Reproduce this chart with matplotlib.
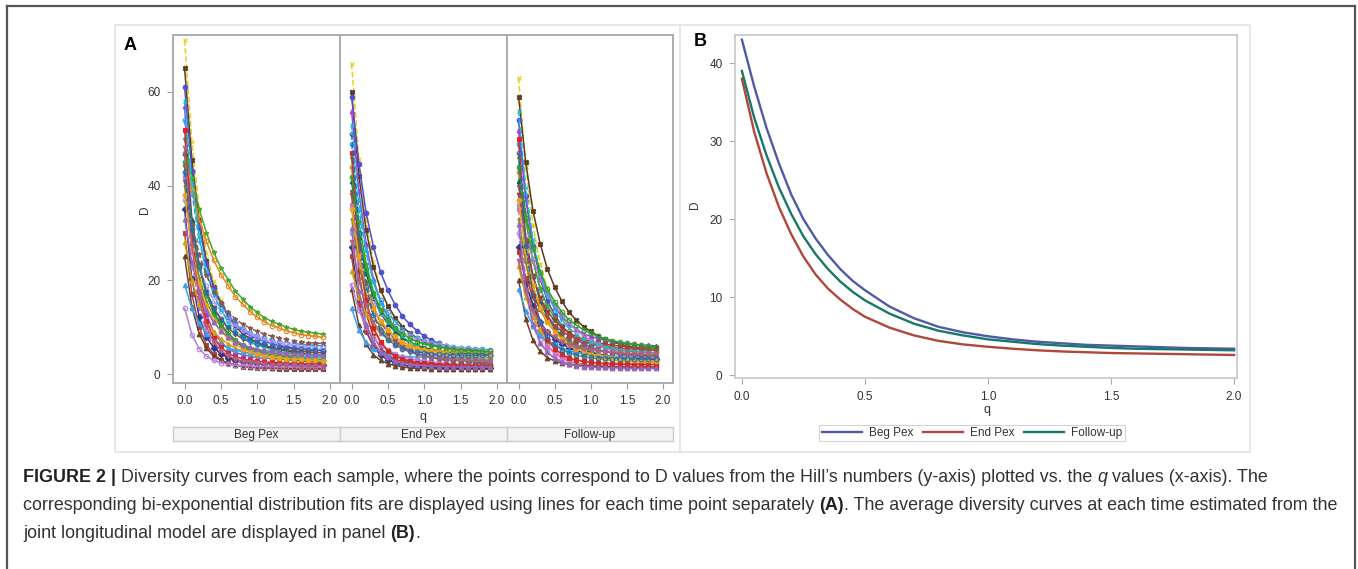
import matplotlib
matplotlib.use("Agg")
import matplotlib.pyplot as plt
from matplotlib.lines import Line2D
from matplotlib.patches import Rectangle

plt.rcParams['font.family'] = ['Liberation Sans', 'DejaVu Sans']

W, H = 1358, 569

# ---------------------------------------------------------------- data
q_points = [0.0, 0.1, 0.2, 0.3, 0.4, 0.5, 0.6, 0.7, 0.8, 0.9,
            1.0, 1.1, 1.2, 1.3, 1.4, 1.5, 1.6, 1.7, 1.8, 1.9]

beg_pex = [
    [71, 49.4, 35.2, 25.8, 19.7, 15.7, 12.6, 10.3, 8.6, 7.4, 6.5, 5.8, 5.3, 4.8, 4.5, 4.2, 4.0, 3.8, 3.6, 3.5],
    [65, 45.5, 32.7, 24.1, 18.6, 15.0, 12.2, 10.1, 8.6, 7.5, 6.7, 6.1, 5.6, 5.2, 4.9, 4.6, 4.4, 4.2, 4.1, 4.0],
    [61, 43.1, 31.3, 23.5, 18.4, 15.1, 12.6, 10.6, 9.2, 8.2, 7.5, 6.9, 6.5, 6.1, 5.8, 5.6, 5.4, 5.2, 5.1, 5.0],
    [57, 32.7, 19.7, 12.7, 8.9, 6.8, 5.4, 4.6, 4.1, 3.8, 3.5, 3.4, 3.3, 3.2, 3.1, 3.05, 3.0, 3.0, 3.0, 3.0],
    [54, 38.6, 28.6, 21.8, 17.5, 14.6, 12.5, 10.8, 9.6, 8.7, 8.1, 7.6, 7.3, 6.9, 6.7, 6.5, 6.3, 6.2, 6.1, 6.0],
    [50, 41.7, 35.1, 30.1, 25.9, 22.6, 20.1, 17.6, 16.0, 14.3, 13.1, 12.0, 11.2, 10.6, 10.0, 9.5, 9.1, 8.9, 8.7, 8.5],
    [47, 39.2, 32.9, 28.2, 24.3, 21.1, 18.8, 16.4, 14.9, 13.3, 12.1, 11.1, 10.3, 9.8, 9.2, 8.8, 8.4, 8.2, 8.0, 7.8],
    [47, 32.8, 23.4, 17.2, 13.2, 10.5, 8.5, 7.0, 5.8, 5.0, 4.5, 4.0, 3.7, 3.4, 3.1, 3.0, 2.8, 2.7, 2.6, 2.5],
    [44, 31.4, 23.1, 17.5, 14.0, 11.6, 9.8, 8.5, 7.5, 6.8, 6.2, 5.8, 5.5, 5.3, 5.1, 4.9, 4.8, 4.7, 4.6, 4.5],
    [42, 23.8, 14.1, 8.8, 6.0, 4.3, 3.3, 2.7, 2.3, 2.1, 1.9, 1.8, 1.7, 1.6, 1.6, 1.5, 1.5, 1.5, 1.5, 1.5],
    [40, 28.3, 20.7, 15.5, 12.3, 10.1, 8.4, 7.2, 6.2, 5.6, 5.1, 4.7, 4.5, 4.2, 4.0, 3.9, 3.8, 3.6, 3.6, 3.5],
    [37, 28.8, 22.8, 18.7, 15.6, 13.4, 11.6, 10.2, 9.3, 8.5, 7.9, 7.3, 6.9, 6.6, 6.3, 6.1, 5.9, 5.7, 5.6, 5.5],
    [35, 20.2, 12.2, 7.9, 5.6, 4.3, 3.5, 3.0, 2.7, 2.5, 2.3, 2.2, 2.2, 2.1, 2.1, 2.0, 2.0, 2.0, 2.0, 2.0],
    [30, 17.0, 10.0, 6.2, 4.2, 3.0, 2.3, 1.9, 1.6, 1.4, 1.3, 1.2, 1.2, 1.1, 1.1, 1.0, 1.0, 1.0, 1.0, 1.0],
    [28, 20.0, 14.8, 11.3, 9.0, 7.5, 6.4, 5.5, 4.9, 4.4, 4.1, 3.9, 3.7, 3.5, 3.4, 3.3, 3.2, 3.1, 3.0, 3.0],
    [25, 14.3, 8.6, 5.5, 3.8, 2.9, 2.3, 1.9, 1.7, 1.5, 1.4, 1.4, 1.3, 1.3, 1.2, 1.2, 1.2, 1.2, 1.2, 1.2],
    [19, 14.0, 10.8, 8.6, 7.2, 6.3, 5.6, 5.1, 4.7, 4.4, 4.2, 4.0, 3.9, 3.8, 3.7, 3.7, 3.6, 3.6, 3.5, 3.5],
    [14, 8.4, 5.4, 3.8, 2.9, 2.4, 2.1, 1.9, 1.8, 1.7, 1.6, 1.6, 1.6, 1.5, 1.5, 1.5, 1.5, 1.5, 1.5, 1.5],
    [58, 40.7, 29.3, 21.7, 16.8, 13.6, 11.1, 9.2, 7.9, 6.9, 6.2, 5.6, 5.2, 4.8, 4.6, 4.3, 4.2, 4.0, 3.9, 3.8],
    [52, 29.6, 17.6, 11.2, 7.7, 5.7, 4.4, 3.7, 3.2, 2.9, 2.7, 2.6, 2.5, 2.4, 2.3, 2.3, 2.2, 2.2, 2.2, 2.2],
    [45, 31.6, 22.7, 16.9, 13.1, 10.6, 8.7, 7.2, 6.2, 5.4, 4.9, 4.4, 4.1, 3.8, 3.6, 3.4, 3.3, 3.2, 3.1, 3.0],
    [41, 32.0, 25.5, 21.0, 17.5, 15.1, 13.2, 11.7, 10.6, 9.8, 9.1, 8.5, 8.1, 7.7, 7.4, 7.1, 6.9, 6.7, 6.6, 6.5],
    [38, 26.7, 19.3, 14.4, 11.2, 9.1, 7.6, 6.3, 5.4, 4.8, 4.4, 4.0, 3.7, 3.5, 3.3, 3.2, 3.1, 2.9, 2.9, 2.8],
    [33, 23.7, 17.6, 13.6, 11.0, 9.2, 7.9, 6.9, 6.2, 5.7, 5.3, 5.0, 4.8, 4.6, 4.4, 4.3, 4.2, 4.1, 4.1, 4.0],
    [48, 27.2, 16.1, 10.1, 6.9, 5.0, 3.9, 3.2, 2.7, 2.5, 2.3, 2.1, 2.0, 1.9, 1.9, 1.85, 1.8, 1.8, 1.8, 1.8],
    [43, 30.8, 22.9, 17.5, 14.1, 11.8, 10.1, 8.8, 7.9, 7.2, 6.7, 6.3, 6.0, 5.7, 5.5, 5.4, 5.3, 5.2, 5.1, 5.0],
]

end_pex = [
    [66, 45.8, 32.6, 23.8, 18.1, 14.3, 11.5, 9.3, 7.7, 6.6, 5.8, 5.1, 4.6, 4.2, 3.9, 3.6, 3.4, 3.3, 3.1, 3.0],
    [60, 42.2, 30.6, 22.8, 17.8, 14.5, 12.0, 10.1, 8.7, 7.7, 6.9, 6.4, 5.9, 5.6, 5.3, 5.1, 4.9, 4.7, 4.6, 4.5],
    [59, 44.7, 34.3, 27.1, 21.6, 17.8, 14.7, 12.3, 10.6, 9.2, 8.1, 7.2, 6.5, 5.9, 5.4, 5.0, 4.7, 4.4, 4.2, 4.0],
    [56, 38.9, 27.6, 20.2, 15.3, 12.1, 9.7, 7.9, 6.5, 5.6, 4.9, 4.3, 3.9, 3.5, 3.3, 3.0, 2.9, 2.7, 2.6, 2.5],
    [49, 35.0, 25.8, 19.7, 15.7, 13.1, 11.1, 9.6, 8.5, 7.7, 7.1, 6.7, 6.3, 6.0, 5.8, 5.6, 5.5, 5.4, 5.3, 5.2],
    [46, 32.4, 23.5, 17.5, 13.7, 11.2, 9.2, 7.8, 6.7, 5.9, 5.4, 5.0, 4.6, 4.3, 4.1, 3.9, 3.8, 3.7, 3.6, 3.5],
    [44, 25.1, 15.0, 9.6, 6.6, 4.9, 3.9, 3.3, 2.8, 2.6, 2.4, 2.3, 2.2, 2.1, 2.1, 2.0, 2.0, 2.0, 2.0, 2.0],
    [41, 29.2, 21.4, 16.2, 12.9, 10.7, 9.0, 7.7, 6.8, 6.1, 5.6, 5.3, 5.0, 4.7, 4.5, 4.4, 4.3, 4.2, 4.1, 4.0],
    [38, 21.6, 12.8, 8.1, 5.5, 4.1, 3.1, 2.6, 2.2, 2.0, 1.9, 1.8, 1.7, 1.6, 1.6, 1.5, 1.5, 1.5, 1.5, 1.5],
    [36, 25.4, 18.5, 13.9, 10.9, 8.9, 7.5, 6.3, 5.5, 4.9, 4.5, 4.1, 3.9, 3.6, 3.5, 3.3, 3.2, 3.1, 3.1, 3.0],
    [33, 23.2, 16.8, 12.6, 9.8, 8.0, 6.6, 5.6, 4.8, 4.2, 3.8, 3.5, 3.3, 3.1, 2.9, 2.8, 2.7, 2.6, 2.6, 2.5],
    [30, 23.5, 18.8, 15.5, 13.0, 11.3, 9.9, 8.8, 8.0, 7.4, 6.9, 6.5, 6.1, 5.9, 5.6, 5.5, 5.3, 5.2, 5.1, 5.0],
    [27, 15.4, 9.2, 5.8, 4.0, 3.0, 2.4, 2.0, 1.7, 1.6, 1.5, 1.4, 1.3, 1.3, 1.3, 1.2, 1.2, 1.2, 1.2, 1.2],
    [25, 14.7, 9.1, 6.1, 4.5, 3.6, 3.0, 2.7, 2.5, 2.3, 2.2, 2.2, 2.1, 2.1, 2.0, 2.0, 2.0, 2.0, 2.0, 2.0],
    [22, 16.4, 12.7, 10.3, 8.7, 7.7, 6.9, 6.3, 5.8, 5.5, 5.3, 5.1, 5.0, 4.8, 4.8, 4.7, 4.6, 4.6, 4.5, 4.5],
    [18, 10.4, 6.3, 4.1, 2.9, 2.2, 1.8, 1.5, 1.3, 1.2, 1.2, 1.1, 1.1, 1.0, 1.0, 1.0, 1.0, 1.0, 1.0, 1.0],
    [14, 9.3, 6.8, 5.4, 4.7, 4.2, 4.0, 3.8, 3.7, 3.6, 3.6, 3.5, 3.5, 3.5, 3.5, 3.5, 3.5, 3.5, 3.5, 3.5],
    [19, 13.6, 10.0, 7.6, 6.1, 5.1, 4.3, 3.7, 3.3, 3.0, 2.8, 2.6, 2.4, 2.3, 2.2, 2.2, 2.1, 2.1, 2.0, 2.0],
    [53, 37.0, 26.5, 19.5, 15.0, 12.0, 9.8, 8.0, 6.8, 5.9, 5.2, 4.7, 4.3, 4.0, 3.7, 3.5, 3.4, 3.2, 3.1, 3.0],
    [47, 26.7, 15.8, 9.9, 6.8, 5.0, 3.8, 3.2, 2.7, 2.4, 2.3, 2.1, 2.0, 1.9, 1.9, 1.85, 1.8, 1.8, 1.8, 1.8],
    [42, 30.1, 22.3, 17.1, 13.7, 11.5, 9.8, 8.5, 7.6, 6.9, 6.4, 6.1, 5.8, 5.5, 5.3, 5.2, 5.1, 5.0, 4.9, 4.8],
    [39, 27.2, 19.5, 14.3, 11.0, 8.8, 7.2, 5.9, 5.0, 4.3, 3.8, 3.5, 3.2, 2.9, 2.7, 2.6, 2.5, 2.4, 2.3, 2.2],
    [35, 25.0, 18.5, 14.1, 11.3, 9.4, 8.0, 6.9, 6.1, 5.6, 5.2, 4.9, 4.6, 4.4, 4.2, 4.1, 4.0, 3.9, 3.9, 3.8],
    [31, 17.7, 10.6, 6.8, 4.7, 3.6, 2.8, 2.4, 2.1, 1.9, 1.8, 1.7, 1.6, 1.6, 1.6, 1.5, 1.5, 1.5, 1.5, 1.5],
    [28, 19.9, 14.6, 11.1, 8.8, 7.3, 6.2, 5.3, 4.7, 4.2, 3.9, 3.7, 3.5, 3.3, 3.2, 3.1, 3.0, 2.9, 2.8, 2.8],
    [51, 29.9, 18.6, 12.5, 9.2, 7.3, 6.1, 5.4, 4.9, 4.7, 4.5, 4.3, 4.2, 4.1, 4.1, 4.05, 4.0, 4.0, 4.0, 4.0],
]

follow_up = [
    [63, 44.1, 31.7, 23.5, 18.2, 14.6, 12.0, 9.9, 8.4, 7.4, 6.6, 6.0, 5.5, 5.1, 4.8, 4.6, 4.4, 4.2, 4.1, 4.0],
    [59, 45.0, 34.7, 27.7, 22.3, 18.5, 15.5, 13.1, 11.5, 10.1, 9.1, 8.1, 7.4, 6.8, 6.4, 6.0, 5.7, 5.4, 5.2, 5.0],
    [54, 37.8, 27.2, 20.2, 15.6, 12.6, 10.3, 8.6, 7.3, 6.4, 5.7, 5.2, 4.8, 4.5, 4.2, 4.0, 3.9, 3.7, 3.6, 3.5],
    [52, 37.3, 27.6, 21.2, 17.0, 14.3, 12.2, 10.6, 9.5, 8.6, 8.0, 7.6, 7.2, 6.9, 6.6, 6.5, 6.3, 6.2, 6.1, 6.0],
    [49, 34.1, 24.4, 17.8, 13.7, 10.9, 8.8, 7.2, 6.0, 5.2, 4.6, 4.1, 3.7, 3.4, 3.2, 3.0, 2.8, 2.7, 2.6, 2.5],
    [46, 32.7, 24.0, 18.2, 14.5, 12.0, 10.1, 8.7, 7.6, 6.9, 6.3, 5.9, 5.6, 5.3, 5.1, 4.9, 4.8, 4.7, 4.6, 4.5],
    [43, 24.3, 14.4, 9.0, 6.1, 4.4, 3.4, 2.7, 2.3, 2.1, 1.9, 1.8, 1.7, 1.6, 1.6, 1.5, 1.5, 1.5, 1.5, 1.5],
    [41, 28.8, 20.9, 15.5, 12.1, 9.8, 8.1, 6.8, 5.9, 5.2, 4.7, 4.3, 4.0, 3.7, 3.5, 3.4, 3.3, 3.2, 3.1, 3.0],
    [38, 27.6, 20.8, 16.2, 13.3, 11.4, 9.9, 8.8, 7.9, 7.4, 6.9, 6.6, 6.4, 6.1, 6.0, 5.8, 5.7, 5.6, 5.6, 5.5],
    [35, 20.4, 12.4, 8.1, 5.8, 4.5, 3.7, 3.2, 2.9, 2.7, 2.5, 2.4, 2.4, 2.3, 2.3, 2.2, 2.2, 2.2, 2.2, 2.2],
    [33, 23.7, 17.6, 13.6, 11.0, 9.2, 7.9, 6.9, 6.2, 5.7, 5.3, 5.0, 4.8, 4.6, 4.4, 4.3, 4.2, 4.1, 4.1, 4.0],
    [30, 17.2, 10.3, 6.6, 4.6, 3.5, 2.8, 2.4, 2.1, 1.9, 1.8, 1.7, 1.6, 1.6, 1.6, 1.5, 1.5, 1.5, 1.5, 1.5],
    [27, 19.5, 14.5, 11.1, 8.9, 7.4, 6.4, 5.6, 5.0, 4.5, 4.2, 4.0, 3.8, 3.6, 3.5, 3.4, 3.3, 3.3, 3.2, 3.2],
    [26, 20.5, 16.6, 13.8, 11.7, 10.3, 9.1, 8.2, 7.5, 7.0, 6.6, 6.2, 6.0, 5.7, 5.5, 5.4, 5.3, 5.2, 5.1, 5.0],
    [23, 16.4, 12.1, 9.3, 7.4, 6.2, 5.3, 4.6, 4.0, 3.7, 3.4, 3.2, 3.0, 2.9, 2.8, 2.7, 2.6, 2.6, 2.5, 2.5],
    [20, 11.7, 7.2, 4.8, 3.5, 2.8, 2.3, 2.1, 1.9, 1.8, 1.7, 1.6, 1.6, 1.5, 1.5, 1.5, 1.5, 1.5, 1.5, 1.5],
    [18, 13.4, 10.3, 8.3, 7.0, 6.1, 5.5, 5.0, 4.6, 4.3, 4.1, 4.0, 3.9, 3.8, 3.7, 3.6, 3.6, 3.6, 3.5, 3.5],
    [36, 29.5, 24.3, 20.4, 17.2, 14.6, 12.6, 10.7, 9.4, 8.1, 7.1, 6.3, 5.6, 5.1, 4.6, 4.3, 4.0, 3.8, 3.7, 3.5],
    [56, 39.5, 28.7, 21.5, 16.9, 13.8, 11.5, 9.7, 8.4, 7.4, 6.8, 6.3, 5.8, 5.5, 5.2, 5.0, 4.9, 4.7, 4.6, 4.5],
    [50, 28.4, 16.9, 10.6, 7.3, 5.4, 4.2, 3.4, 3.0, 2.7, 2.5, 2.3, 2.2, 2.1, 2.1, 2.05, 2.0, 2.0, 2.0, 2.0],
    [44, 34.1, 26.8, 21.8, 18.0, 15.4, 13.2, 11.5, 10.4, 9.4, 8.7, 8.0, 7.5, 7.1, 6.8, 6.5, 6.3, 6.1, 5.9, 5.8],
    [40, 28.4, 20.8, 15.7, 12.5, 10.3, 8.7, 7.4, 6.5, 5.9, 5.4, 5.0, 4.7, 4.5, 4.3, 4.2, 4.1, 3.9, 3.9, 3.8],
    [37, 26.1, 18.9, 14.1, 11.0, 9.0, 7.4, 6.2, 5.4, 4.8, 4.3, 4.0, 3.7, 3.5, 3.3, 3.1, 3.0, 2.9, 2.9, 2.8],
    [32, 18.1, 10.7, 6.7, 4.6, 3.4, 2.6, 2.1, 1.8, 1.6, 1.5, 1.4, 1.4, 1.3, 1.3, 1.2, 1.2, 1.2, 1.2, 1.2],
    [24, 17.7, 13.5, 10.7, 9.0, 7.8, 6.9, 6.2, 5.7, 5.3, 5.1, 4.9, 4.7, 4.6, 4.5, 4.4, 4.3, 4.3, 4.2, 4.2],
    [47, 27.3, 16.8, 11.1, 8.0, 6.3, 5.2, 4.5, 4.1, 3.8, 3.6, 3.5, 3.4, 3.3, 3.3, 3.25, 3.2, 3.2, 3.2, 3.2],
]

facet_names = ["Beg Pex", "End Pex", "Follow-up"]
facet_data = [beg_pex, end_pex, follow_up]

# model averages (panel B)
q_fit = [0.0, 0.05, 0.1, 0.15, 0.2, 0.25, 0.3, 0.35, 0.4, 0.45, 0.5, 0.6, 0.7,
         0.8, 0.9, 1.0, 1.1, 1.2, 1.3, 1.4, 1.5, 1.6, 1.7, 1.8, 1.9, 2.0]
fit_beg = [43.0, 37.0, 31.7, 27.2, 23.2, 20.0, 17.5, 15.4, 13.6, 12.1, 10.9, 8.8, 7.3,
           6.2, 5.5, 5.0, 4.6, 4.3, 4.1, 3.9, 3.8, 3.7, 3.6, 3.5, 3.45, 3.4]
fit_end = [38.0, 31.2, 25.9, 21.6, 18.1, 15.2, 12.9, 11.1, 9.7, 8.5, 7.5, 6.1, 5.1,
           4.4, 3.95, 3.65, 3.4, 3.2, 3.05, 2.95, 2.85, 2.8, 2.75, 2.7, 2.65, 2.6]
fit_follow = [39.0, 33.0, 28.2, 24.1, 20.7, 17.8, 15.5, 13.6, 12.0, 10.7, 9.6, 7.9, 6.6,
              5.7, 5.1, 4.6, 4.3, 4.0, 3.8, 3.65, 3.5, 3.4, 3.35, 3.3, 3.25, 3.2]
fit_labels = ["Beg Pex", "End Pex", "Follow-up"]

# ---------------------------------------------------------------- styles
curve_colors = ['#E6CF1A', '#5B3A1E', '#4F4FD0', '#9D3CDB', '#2E9BF0', '#47A82A',
                '#E0861A', '#01665E', '#A23A2E', '#D36FC6', '#7F8E1F', '#B38EF3',
                '#2E3A87', '#B0413E', '#C9A40E', '#6B4226', '#3CA0F0', '#B57EDC',
                '#17BECF', '#D62728', '#2CA02C', '#8C564B', '#E8A317', '#9467BD',
                '#B26084', '#1F6FB4']
curve_markers = ['x', 'X', 'o', '^', 'o', '*', 'o', '^', 'v', 's', '+', 'o',
                 'D', 's', '^', '^', '^', 'o', 'x', 's', 'o', '*', 'o', '^', 'v', 'o']
curve_filled = [True, True, True, True, False, True, False, True, True, True, True, False,
                True, True, True, True, True, False, True, True, False, True, True, True,
                True, False]
curve_styles = ['--', '-', '-', '-', '--', '-', '-', '-', '-', '--', '-', '--',
                '-', '-', '-', '-', '-', '-', '--', '-', '-', '--', '-', '-', '-', '--']
fit_colors = ['#4E5BA6', '#B0473B', '#17786A']

TICK_C = '#333333'
FRAME_C = '#A9ADB1'


def px(x):
    return x / W


def py(y):
    return 1 - y / H


def rect(x0, y0, x1, y1):
    return [px(x0), py(y1), px(x1) - px(x0), py(y0) - py(y1)]


fig = plt.figure(figsize=(W / 100, H / 100), dpi=100)

# outer figure frame (dark) and inner light panel frame
fig.add_artist(Line2D([px(7), px(1355)], [py(6), py(6)], color='#555555', lw=1.6))
fig.add_artist(Line2D([px(7), px(7)], [py(6), py(569)], color='#555555', lw=1.6))
fig.add_artist(Line2D([px(1355), px(1355)], [py(6), py(569)], color='#555555', lw=1.6))
fig.add_artist(Rectangle((px(115), py(452)), px(1250) - px(115), py(25) - py(452),
                         fill=False, edgecolor='#E2E2E2', lw=1.2))
fig.add_artist(Line2D([px(680), px(680)], [py(25), py(452)], color='#E2E2E2', lw=1.2))

# ---------------------------------------------------------------- panel A
facet_x = [(173, 340), (340, 507), (507, 673)]
for k, (x0, x1) in enumerate(facet_x):
    ax = fig.add_axes(rect(x0, 35, x1, 383))
    curves = facet_data[k]
    for i, vals in enumerate(curves):
        c = curve_colors[i % len(curve_colors)]
        mk = curve_markers[i % len(curve_markers)]
        ax.plot(q_points, vals, color=c, lw=1.1, ls=curve_styles[i % len(curve_styles)],
                marker=mk, markersize=3.3, markeredgewidth=0.8,
                markerfacecolor=c if curve_filled[i % len(curve_filled)] else 'none',
                markeredgecolor=c, zorder=2 + i * 0.01)
    ax.set_xlim(-0.16, 2.14)
    ax.set_ylim(-1.9, 72.1)
    ax.set_xticks([0.0, 0.5, 1.0, 1.5, 2.0])
    ax.set_xticklabels(['0.0', '0.5', '1.0', '1.5', '2.0'])
    ax.set_yticks([0, 20, 40, 60])
    for s in ax.spines.values():
        s.set_color(FRAME_C)
        s.set_linewidth(1.4)
    ax.tick_params(axis='both', colors='#9A9EA2', labelcolor=TICK_C, labelsize=8.5,
                   length=4, width=0.8, pad=5)
    if k > 0:
        ax.tick_params(axis='y', left=False, labelleft=False)
    # strip below facet
    sax = fig.add_axes(rect(x0, 427, x1, 441))
    sax.set_facecolor('#F3F3F4')
    sax.set_xticks([])
    sax.set_yticks([])
    for s in sax.spines.values():
        s.set_color('#CACCCE')
        s.set_linewidth(1.0)
    sax.text(0.5, 0.45, facet_names[k], ha='center', va='center', fontsize=8.5,
             color=TICK_C, transform=sax.transAxes)

fig.text(px(130), py(45), 'A', fontsize=13, fontweight='bold', ha='center', va='center')
fig.text(px(145), py(210), 'D', fontsize=8.5, rotation=90, ha='center', va='center', color=TICK_C)
fig.text(px(423), py(417), 'q', fontsize=9, ha='center', va='center', color=TICK_C)

# ---------------------------------------------------------------- panel B
axb = fig.add_axes(rect(735, 35, 1237, 378))
handles = []
for vals, c, lab in zip([fit_beg, fit_end, fit_follow], fit_colors, fit_labels):
    h, = axb.plot(q_fit, vals, color=c, lw=1.7, label=lab)
    handles.append(h)
axb.set_xlim(-0.028, 2.012)
axb.set_ylim(-0.35, 43.6)
axb.set_xticks([0.0, 0.5, 1.0, 1.5, 2.0])
axb.set_xticklabels(['0.0', '0.5', '1.0', '1.5', '2.0'])
axb.set_yticks([0, 10, 20, 30, 40])
for s in axb.spines.values():
    s.set_color('#C4C8CC')
    s.set_linewidth(1.2)
axb.tick_params(axis='both', colors='#A8ACB0', labelcolor=TICK_C, labelsize=8.5,
                length=4, width=0.8, pad=5)

fig.text(px(700), py(42), 'B', fontsize=13, fontweight='bold', ha='center', va='center')
fig.text(px(695), py(205), 'D', fontsize=8.5, rotation=90, ha='center', va='center', color=TICK_C)
fig.text(px(987), py(410), 'q', fontsize=9, ha='center', va='center', color=TICK_C)

leg = axb.legend(handles=handles, labels=fit_labels, loc='center',
                 bbox_to_anchor=(px(972), py(433)), bbox_transform=fig.transFigure,
                 ncol=3, fontsize=8.5, frameon=True, fancybox=False,
                 handlelength=3.4, columnspacing=0.8, handletextpad=0.6,
                 borderpad=0.2)
leg.get_frame().set_edgecolor('#C8C8C8')
leg.get_frame().set_linewidth(0.8)
for t in leg.get_texts():
    t.set_color(TICK_C)

# ---------------------------------------------------------------- caption
CAP_SIZE = 12.9
renderer = fig.canvas.get_renderer()


def text_width(s, **kw):
    t = fig.text(0, 0, s, fontsize=CAP_SIZE, **kw)
    w = t.get_window_extent(renderer=renderer).width
    t.remove()
    return w


space_w = text_width('a a') - text_width('aa')


def draw_runs(x, y, runs):
    for txt, weight, style, color in runs:
        if txt.startswith(' '):
            x += space_w
        body = txt.strip()
        t = fig.text(px(x), py(y), body, fontsize=CAP_SIZE, fontweight=weight,
                     fontstyle=style, color=color, ha='left', va='center')
        x += t.get_window_extent(renderer=renderer).width
        if txt.endswith(' '):
            x += space_w


body_c = '#333333'
draw_runs(23, 478, [
    ('FIGURE 2 | ', 'bold', 'normal', '#222222'),
    ('Diversity curves from each sample, where the points correspond to D values from the '
     'Hill\u2019s numbers (y-axis) plotted vs. the ', 'normal', 'normal', body_c),
    ('q', 'normal', 'italic', body_c),
    (' values (x-axis). The', 'normal', 'normal', body_c),
])
draw_runs(23, 506, [
    ('corresponding bi-exponential distribution fits are displayed using lines for each '
     'time point separately ', 'normal', 'normal', body_c),
    ('(A)', 'bold', 'normal', '#222222'),
    ('. The average diversity curves at each time estimated from the', 'normal', 'normal', body_c),
])
draw_runs(23, 533, [
    ('joint longitudinal model are displayed in panel ', 'normal', 'normal', body_c),
    ('(B)', 'bold', 'normal', '#222222'),
    ('.', 'normal', 'normal', body_c),
])

fig.savefig('out.png', dpi=100)
